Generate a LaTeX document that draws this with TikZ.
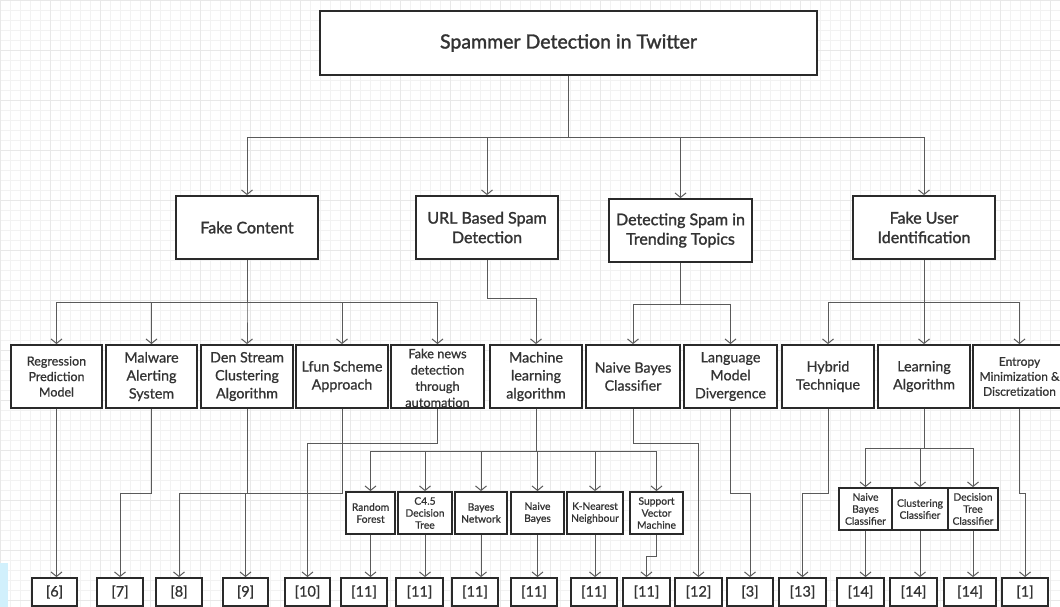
\documentclass[tikz,border=0pt]{standalone}
\usepackage{fontspec}
\setmainfont{Lato}[FakeBold=0.8]
\newfontfamily\latosb{Lato}[FakeBold=1.6]
\usetikzlibrary{arrows.meta}
\definecolor{boxc}{HTML}{2A2A2A}
\definecolor{linec}{HTML}{5A5A5A}
\definecolor{txt}{HTML}{333333}
\definecolor{gridc}{HTML}{F2F2F2}
\definecolor{gridm}{HTML}{E8E8E8}
\tikzset{
  box/.style={draw=boxc, line width=1.8pt, fill=white, inner sep=0pt, align=center, text=txt},
  rootbox/.style={box, minimum width=497pt, minimum height=64pt, font=\latosb\fontsize{19.5}{23}\selectfont},
  lvtwo/.style={box, minimum width=142pt, minimum height=63pt, font=\latosb\fontsize{16}{19.5}\selectfont},
  lvthree/.style={box, minimum height=63pt, font=\fontsize{14.3}{18}\selectfont},
  lvthrees/.style={box, minimum height=63pt, font=\fontsize{12.5}{15.5}\selectfont},
  lvfour/.style={box, minimum height=42pt, font=\fontsize{10.3}{12}\selectfont},
  refbox/.style={box, minimum height=28pt, font=\fontsize{14.5}{16}\selectfont},
  arr/.style={draw=linec, line width=1pt, -{Straight Barb[length=4.5pt,width=11pt]}}
}
\begin{document}
\begin{tikzpicture}[x=1pt,y=-1pt]
\clip (0,0) rectangle (1060,607);
\fill[white] (0,0) rectangle (1060,607);
\foreach \gx in {0,10,...,1060} \draw[gridc, line width=0.4pt] (\gx,0) -- (\gx,607);
\foreach \gy in {0,10,...,600} \draw[gridc, line width=0.4pt] (0,\gy) -- (1060,\gy);
\foreach \gx in {0,50,...,1050} \draw[gridm, line width=0.5pt] (\gx,0) -- (\gx,607);
\foreach \gy in {0,50,...,600} \draw[gridm, line width=0.5pt] (0,\gy) -- (1060,\gy);
\fill[cyan!18] (0,563) rectangle (8,607);

% root
\node[rootbox] (root) at (568.5,43) {Spammer Detection in Twitter};

% level 2
\node[lvtwo] (fc)  at (247,227.5) {Fake Content};
\node[lvtwo] (url) at (487,227.5) {URL Based Spam\\Detection};
\node[lvtwo, minimum width=143pt] (dst) at (680.5,230.5) {Detecting Spam in\\Trending Topics};
\node[lvtwo] (fui) at (924,227.5) {Fake User\\Identification};

% level 3
\node[lvthrees, minimum width=91pt] (reg)  at (56.5,376.5) {Regression\\Prediction\\Model};
\node[lvthree, minimum width=91pt] (mal)  at (151.5,376.5) {Malware\\Alerting\\System};
\node[lvthree, minimum width=92pt] (den)  at (247,376.5) {Den Stream\\Clustering\\Algorithm};
\node[lvthree, minimum width=92pt] (lfun) at (342,376.5) {Lfun Scheme\\Approach};
\node[lvthrees, minimum width=93pt] (fnd)  at (437.5,376.5) {};
\node[text=txt, align=center, font=\fontsize{12.8}{16.3}\selectfont, inner sep=0pt] (fndt) at (437.5,378) {Fake news\\detection\\through\\automation};
\node[lvthree, minimum width=92pt] (mla)  at (536,376.5) {Machine\\learning\\algorithm};
\node[lvthree, minimum width=94pt] (nbc)  at (633,376.5) {Naive Bayes\\Classifier};
\node[lvthree, minimum width=93pt] (lmd)  at (730.5,376.5) {Language\\Model\\Divergence};
\node[lvthree, minimum width=92pt] (hyb)  at (828,376.5) {Hybrid\\Technique};
\node[lvthree, minimum width=92pt] (lal)  at (924,376.5) {Learning\\Algorithm};
\node[lvthrees, minimum width=93pt, font=\fontsize{12}{15}\selectfont] (ent)  at (1019.5,376.5) {Entropy\\Minimization \&\\Discretization};

% level 4 (machine learning)
\node[lvfour, minimum width=49pt] (rf)  at (370.5,513) {Random\\Forest};
\node[lvfour, minimum width=54pt] (c45) at (425,513) {C4.5\\Decision\\Tree};
\node[lvfour, minimum width=52pt] (bn)  at (481,513) {Bayes\\Network};
\node[lvfour, minimum width=53pt] (nb)  at (537.5,513) {Naive\\Bayes};
\node[lvfour, minimum width=56pt] (knn) at (595,513) {K-Nearest\\Neighbour};
\node[lvfour, minimum width=53pt] (svm) at (656.5,513) {Support\\Vector\\Machine};

% level 4 (learning algorithm)
\node[lvfour, minimum width=53pt] (nbc2) at (865.5,509) {Naive\\Bayes\\Classifier};
\node[lvfour, minimum width=56pt] (clc)  at (920,509) {Clustering\\Classifier};
\node[lvfour, minimum width=50pt] (dtc)  at (973,509) {Decision\\Tree\\Classifier};

% references
\node[refbox, minimum width=45pt] (r6)   at (54.5,592) {[6]};
\node[refbox, minimum width=46pt] (r7)   at (120,592) {[7]};
\node[refbox, minimum width=46pt] (r8)   at (179,592) {[8]};
\node[refbox, minimum width=45pt] (r9)   at (245.5,592) {[9]};
\node[refbox, minimum width=45pt] (r10)  at (307.5,592) {[10]};
\node[refbox, minimum width=46pt] (r11a) at (364,592) {[11]};
\node[refbox, minimum width=47pt] (r11b) at (419.5,592) {[11]};
\node[refbox, minimum width=46pt] (r11c) at (475,592) {[11]};
\node[refbox, minimum width=46pt] (r11d) at (534,592) {[11]};
\node[refbox, minimum width=46pt] (r11e) at (594,592) {[11]};
\node[refbox, minimum width=47pt] (r11f) at (646.5,592) {[11]};
\node[refbox, minimum width=47pt] (r12)  at (698.5,592) {[12]};
\node[refbox, minimum width=46pt] (r3)   at (750,592) {[3]};
\node[refbox, minimum width=47pt] (r13)  at (802.5,592) {[13]};
\node[refbox, minimum width=47pt] (r14a) at (860.5,592) {[14]};
\node[refbox, minimum width=47pt] (r14b) at (913.5,592) {[14]};
\node[refbox, minimum width=52pt] (r14c) at (970,592) {[14]};
\node[refbox, minimum width=46pt] (r1)   at (1025,592) {[1]};

% root -> level 2
\foreach \t in {fc,url,dst,fui} \draw[arr] (root.south) -- ++(0,62) -| (\t.north);

% level 2 -> level 3
\foreach \t in {reg,mal,den,lfun,fnd} \draw[arr] (fc.south) -- ++(0,43) -| (\t.north);
\draw[arr] (url.south) -- ++(0,39) -| (mla.north);
\foreach \t in {nbc,lmd} \draw[arr] (dst.south) -- ++(0,42) -| (\t.north);
\foreach \t in {hyb,lal,ent} \draw[arr] (fui.south) -- ++(0,43) -| (\t.north);

% level 3 -> level 4
\foreach \t in {rf,c45,bn,nb,knn,svm} \draw[arr] (mla.south) -- ++(0,43) -| (\t.north);
\foreach \t in {nbc2,clc,dtc} \draw[arr] (lal.south) -- ++(0,40) -| (\t.north);

% to references
\draw[arr] (reg.south) -- (reg.south |- r6.north);
\draw[arr] (mal.south) -- ++(0,85) -| (r7.north);
\draw[arr] (den.south) -- ++(0,85) -| (r8.north);
\draw[arr] (lfun.south) -- ++(0,85) -| (r9.north);
\draw[arr] (fnd.south) -- ++(0,35) -| (r10.north);
\draw[arr] (rf.south) -- (rf.south |- r11a.north);
\draw[arr] (c45.south) -- (c45.south |- r11b.north);
\draw[arr] (bn.south) -- (bn.south |- r11c.north);
\draw[arr] (nb.south) -- (nb.south |- r11d.north);
\draw[arr] (knn.south) -- (knn.south |- r11e.north);
\draw[arr] (svm.south) -- ++(0,22) -| (r11f.north);
\draw[arr] (nbc.south) -- ++(0,35) -| (r12.north);
\draw[arr] (lmd.south) -- ++(0,85) -| (r3.north);
\draw[arr] (hyb.south) -- ++(0,85) -| (r13.north);
\draw[arr] (nbc2.south) -- (nbc2.south |- r14a.north);
\draw[arr] (clc.south) -- (clc.south |- r14b.north);
\draw[arr] (dtc.south) -- (dtc.south |- r14c.north);
\draw[arr] (ent.south) -- ++(0,85) -| (r1.north);
\end{tikzpicture}
\end{document}
